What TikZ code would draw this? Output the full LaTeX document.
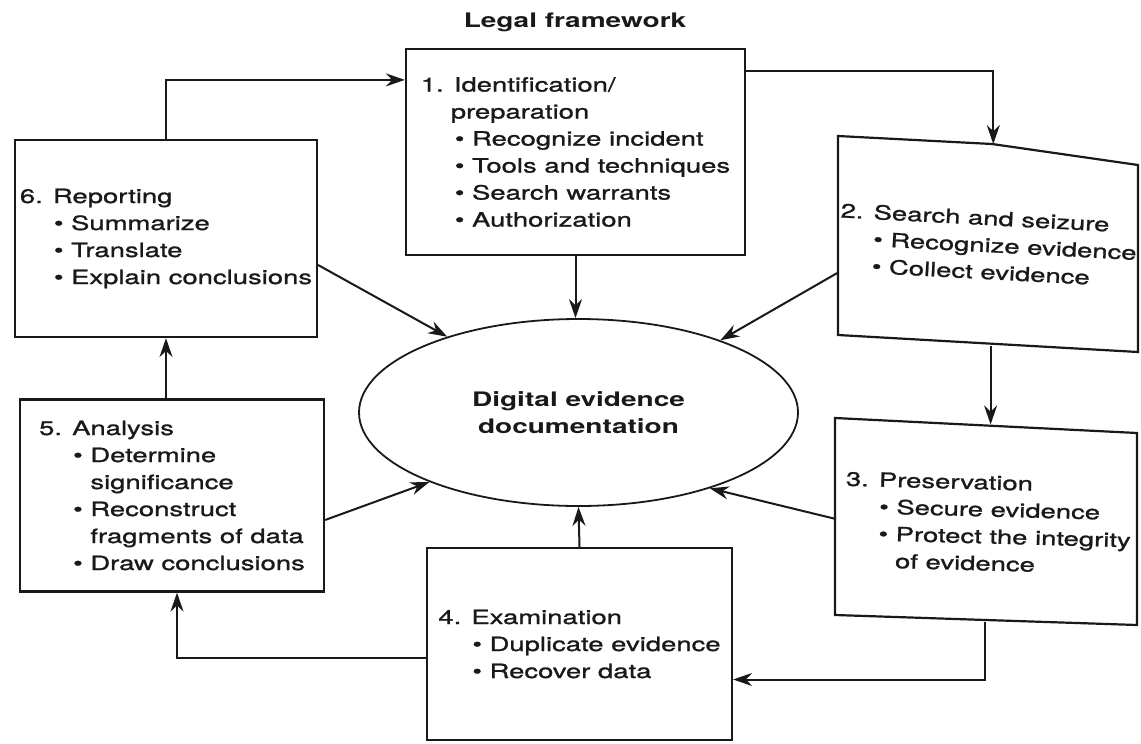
\documentclass[tikz,border=0pt]{standalone}
\usepackage{fontspec}
\setmainfont[FakeStretch=1.4,UprightFeatures={FakeBold=1.2}]{TeX Gyre Heros}
\usetikzlibrary{arrows.meta,shapes.geometric}
\newcommand{\bpt}[1]{\hspace*{17pt}\textbullet\ #1}
\newcommand{\bcont}[1]{\hspace*{17pt}\phantom{\textbullet\ }#1}
\tikzset{
 stage/.style={draw=black!90,line width=1.1pt,align=left,inner sep=0pt},
 flow/.style={draw=black!90,line width=1pt,-{Stealth[length=9.5pt,width=6.5pt]}}
}
\begin{document}
\begin{tikzpicture}[x=0.5pt,y=-0.5pt,font=\fontsize{9.8}{13.5}\selectfont,text=black!90]
 \useasboundingbox (0,0) rectangle (1141,744);
 \node[font=\fontsize{10}{12}\selectfont\bfseries] (title) at (575,22) {Legal framework};
 \node[draw=black!90,line width=0.9pt,ellipse,minimum width=219.5pt,minimum height=93.5pt,
  inner sep=0pt,align=center,font=\fontsize{10}{13.5}\selectfont\bfseries] (doc) at (578.5,412.5)
  {Digital evidence\\documentation};
 \node[stage,minimum width=169.5pt,minimum height=103pt] (b1) at (575.5,152)
  {1. Identification/\\\hspace*{15pt}preparation\\\bpt{Recognize incident}\\
   \bpt{Tools and techniques}\\\bpt{Search warrants}\\\bpt{Authorization}};
 \node[stage,draw=none,rotate=-3,minimum width=150pt,minimum height=100pt] (b2) at (988,245)
  {2. Search and seizure\\\bpt{Recognize evidence}\\\bpt{Collect evidence}};
 \draw[line width=1.1pt,black!90] (838,136) -- (992,144) -- (1138,165) -- (1138,352)
  -- (838,335) -- cycle;
 \node[stage,draw=none,rotate=-1.5,minimum width=151pt,minimum height=97.5pt] (b3) at (988,523)
  {3. Preservation\\\bpt{Secure evidence}\\\bpt{Protect the integrity}\\\bcont{of evidence}};
 \draw[line width=1.1pt,black!90] (835,418) -- (1137,433) -- (1137,625) -- (835,615) -- cycle;
 \node[stage,minimum width=152.5pt,minimum height=96pt] (b4) at (579.5,644)
  {4. Examination\\\bpt{Duplicate evidence}\\\bpt{Recover data}};
 \node[stage,minimum width=152pt,minimum height=96pt] (b5) at (172,495.5)
  {5. Analysis\\\bpt{Determine}\\\bcont{significance}\\\bpt{Reconstruct}\\
   \bcont{fragments of data}\\\bpt{Draw conclusions}};
 \node[stage,minimum width=151pt,minimum height=98.5pt] (b6) at (166,238.5)
  {6. Reporting\\\bpt{Summarize}\\\bpt{Translate}\\\bpt{Explain conclusions}};
 \draw[flow] (b6.north) |- ([yshift=-16pt]b1.north west);
 \draw[flow] ([yshift=-11.5pt]b1.north east) -| (b2.north);
 \draw[flow] (b3.north |- b2.south) -- (b3.north);
 \draw[flow] (b3.south) |- ([yshift=-17.75pt]b4.east);
 \draw[flow] ([yshift=-6.75pt]b4.west) -| ([xshift=2.5pt]b5.south);
 \draw[flow] (b6.south |- b5.north) -- (b6.south);
 \draw[flow] (b1.south) -- (b1.south |- doc.north);
 \draw[flow] (b4.north) -- (doc.south);
 \coordinate (b6out) at ([yshift=-13.25pt]b6.east);
 \coordinate (b2out) at ([yshift=-18pt]b2.west);
 \coordinate (b5out) at ([yshift=-12.25pt]b5.east);
 \foreach \from/\ang in {b6out/150,b2out/27,b5out/205,b3.west/330}
  \draw[flow] (\from) -- (doc.\ang);
\end{tikzpicture}
\end{document}
